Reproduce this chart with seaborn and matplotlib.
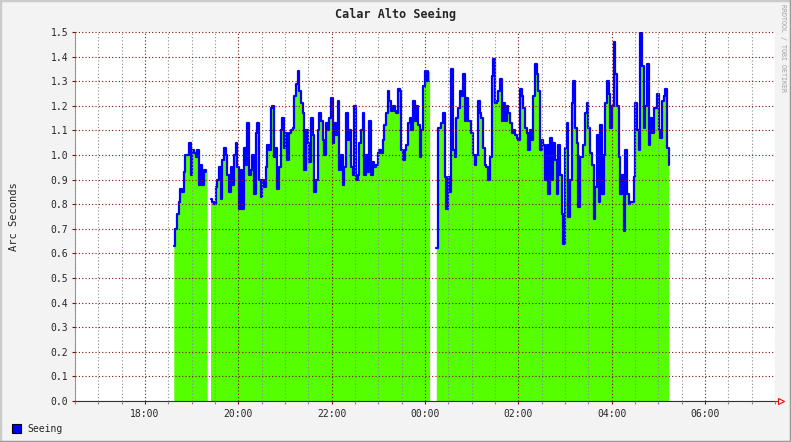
# Calar Alto seeing night plot, redrawn in the RRDtool look
import numpy as np
import pandas as pd
import matplotlib
matplotlib.use('Agg')
import matplotlib.pyplot as plt
import matplotlib.dates as mdates
import matplotlib.patches as mpatches
import seaborn as sns

# ###########################################################
# Seeing samples (arc seconds), one every 129 s from 18:37.
# NaN = no data (the two white gaps).
start_time = '2024-01-01 18:37:00'
sample_step = '129s'

evening = [0.63, 0.70, 0.76, 0.81, 0.86, 0.85, 0.93, 1.0, 1.0, 1.05,
           0.92, 1.02, 1.01, 0.99, 1.02, 0.88, 0.96, 0.88, 0.94, 0.93]
gap1 = [np.nan, np.nan]
before_22h = [0.82, 0.81, 0.80, 0.87, 0.9, 0.95, 0.82, 0.98, 1.03, 1.0,
              0.92, 0.85, 0.95, 0.88, 1.0, 1.05, 0.95, 0.78, 0.94, 0.78,
              1.03, 0.96, 1.13, 0.92, 0.94, 1.0, 0.84, 1.09, 1.13, 0.9,
              0.83, 0.9, 0.87, 0.95, 1.04, 1.02, 1.19, 1.2, 0.99, 1.03,
              0.86, 0.95, 1.1, 1.15, 1.03, 1.09, 0.98, 1.09, 1.1, 1.11,
              1.24, 1.29, 1.34]
to_midnight = [1.26, 1.21, 1.17, 0.94, 1.1, 1.05, 0.97, 1.15, 1.08, 0.85,
               0.9, 1.1, 1.17, 1.14, 1.06, 1.0, 1.13, 1.1, 1.15, 1.23,
               1.05, 1.13, 1.08, 1.22, 0.94, 1.0, 0.88, 0.95, 1.17, 1.06,
               1.1, 0.95, 0.92, 1.2, 0.9, 0.92, 1.05, 1.1, 1.17, 0.92,
               1.0, 0.93, 1.14, 0.92, 0.97, 0.95, 0.96, 1.01, 1.02, 1.01,
               1.06, 1.12, 1.17, 1.26, 1.22, 1.18, 1.2, 1.18, 1.17, 1.27,
               1.26, 1.02, 0.98, 1.02, 1.04, 1.13, 1.15, 1.1, 1.22, 1.14,
               1.2, 1.12, 0.99, 1.1, 1.28, 1.34, 1.3, 1.34]
gap2 = [np.nan, np.nan, np.nan, np.nan]
after_midnight = [0.62, 1.11, 1.11, 1.13, 1.17, 0.91, 0.78, 0.91, 0.85, 1.35,
                  1.02, 0.99, 1.15, 1.19, 1.26, 1.24, 1.33, 1.14, 1.23, 1.14,
                  1.14, 1.09, 1.0, 0.96, 1.0, 1.22, 1.17, 1.15, 1.03, 0.96,
                  0.95, 0.9, 0.99, 1.32, 1.39, 1.21, 1.22, 1.26, 1.31, 1.14,
                  1.21, 1.14, 1.2, 1.17, 1.13, 1.09, 1.1, 1.08, 1.07, 1.06,
                  1.27, 1.24, 1.19, 1.11, 1.09, 1.02, 1.1, 1.06, 1.24, 1.37,
                  1.33, 1.26, 1.02, 1.06, 1.04, 0.9, 1.04, 0.84]
morning = [1.07, 0.9, 1.05, 0.98, 0.84, 1.04, 0.92, 0.76, 0.64, 1.03,
           1.13, 0.75, 0.9, 1.21, 1.3, 1.11, 1.05, 0.79, 0.99, 0.99,
           1.04, 1.17, 1.21, 1.11, 1.01, 0.96, 0.74, 0.87, 1.08, 0.81,
           1.12, 0.84, 1.0, 1.21, 1.3, 1.25, 1.11, 1.2, 1.46, 1.33,
           1.2, 0.99, 0.84, 0.92, 0.69, 1.02, 0.84, 0.8, 0.81, 0.81,
           0.91, 1.21, 1.1, 1.02, 1.5, 1.36, 1.11, 1.2, 1.37, 1.04,
           1.15, 1.09, 1.19, 1.19, 1.25, 1.1, 1.07, 1.22, 1.24, 1.27,
           1.03, 0.96]

seeing = evening + gap1 + before_22h + to_midnight + gap2 + after_midnight + morning

data = pd.DataFrame({'time': pd.date_range(start_time, periods=len(seeing), freq=sample_step),
                     'seeing': seeing})
# number the unbroken runs so the line does not jump the gaps
data['run'] = data['seeing'].isna().cumsum()

green = '#55ff00'
blue = '#0000ff'
major_red = '#7a1010'
minor_grey = '#8c8c8c'
mono = 'DejaVu Sans Mono'

sns.set_style('white')
plt.rcParams['font.family'] = [mono, 'DejaVu Sans']

fig = plt.figure(figsize=(7.91, 4.42), dpi=100, facecolor='#f3f3f3')
ax = fig.add_axes([75 / 791, 1 - 401 / 442, 700 / 791, 369 / 442])
ax.set_facecolor('white')

# Area first, then the step line on top.
ax.fill_between(data['time'], data['seeing'].fillna(0), step='post',
                color=green, linewidth=0, zorder=1)
sns.lineplot(data=data.dropna(), x='time', y='seeing', units='run', estimator=None,
             drawstyle='steps-post', color=blue, linewidth=1.6, ax=ax, zorder=2)

ax.set_xlim(pd.Timestamp('2024-01-01 16:30'), pd.Timestamp('2024-01-02 07:30'))
ax.set_ylim(0, 1.5)
ax.set_yticks(np.arange(0, 1.51, 0.1))
ax.yaxis.set_major_formatter(matplotlib.ticker.FormatStrFormatter('%.1f'))
ax.xaxis.set_major_locator(mdates.HourLocator(byhour=range(0, 24, 2)))
ax.xaxis.set_minor_locator(mdates.MinuteLocator(byminute=[0, 30]))
ax.xaxis.set_major_formatter(mdates.DateFormatter('%H:%M'))
ax.set_xlabel('')
ax.set_ylabel('')

# RRDtool draws its grid above the graph.
ax.set_axisbelow(False)
ax.grid(which='minor', axis='x', color=minor_grey, linestyle=(0, (1, 2)), linewidth=0.8)
ax.grid(which='major', axis='x', color=major_red, linestyle=(0, (1, 2)), linewidth=0.8)
ax.grid(which='major', axis='y', color=major_red, linestyle=(0, (1, 2)), linewidth=0.8)

ax.tick_params(axis='both', which='major', labelsize=7, length=2.5, width=0.8,
               color=major_red, pad=2.5, direction='out', bottom=True, left=True)
ax.tick_params(axis='x', which='minor', length=2, width=0.8, color=minor_grey,
               direction='out', bottom=True)
ax.tick_params(axis='x', which='major', pad=3)

for side in ['top', 'right']:
    ax.spines[side].set_visible(False)
ax.spines['left'].set_color('#999999')
ax.spines['left'].set_linewidth(0.8)
ax.spines['bottom'].set_color('#333333')
ax.spines['bottom'].set_linewidth(0.8)

# little red arrow at the end of the time axis
ax.plot([1.0, 1.006], [0, 0], color='red', lw=0.8, transform=ax.transAxes, clip_on=False)
ax.plot(1.009, 0, marker='>', ms=5, mfc='white', mec='red', mew=0.8,
        transform=ax.transAxes, clip_on=False)

# Texts
fig.text(395.5 / 791, 1 - 14 / 442, 'Calar Alto Seeing', ha='center', va='center',
         fontsize=8.5, fontweight='bold', family=mono)
fig.text(14 / 791, 1 - 217 / 442, 'Arc Seconds', ha='center', va='center',
         rotation=90, fontsize=7.5, family=mono)
fig.text(783 / 791, 1 - 4 / 442, 'RRDTOOL / TOBI OETIKER', ha='center', va='top',
         rotation=270, fontsize=4.8, color='#a0a0a0', family=mono)

# legend box
fig.patches.append(mpatches.Rectangle((12 / 791, 1 - 433 / 442), 9 / 791, 9 / 442,
                                      transform=fig.transFigure, facecolor=blue,
                                      edgecolor='black', linewidth=0.8))
fig.text(27 / 791, 1 - 428.5 / 442, 'Seeing', ha='left', va='center',
         fontsize=7, family=mono)

# 3D frame round the image
fig.add_artist(plt.Line2D([0, 0, 1], [0, 1, 1], transform=fig.transFigure,
                          color='#cbcbcb', linewidth=2.5))
fig.add_artist(plt.Line2D([0, 1, 1], [0, 0, 1], transform=fig.transFigure,
                          color='#999999', linewidth=2.5))

plt.savefig('out.png', dpi=100, facecolor=fig.get_facecolor())
